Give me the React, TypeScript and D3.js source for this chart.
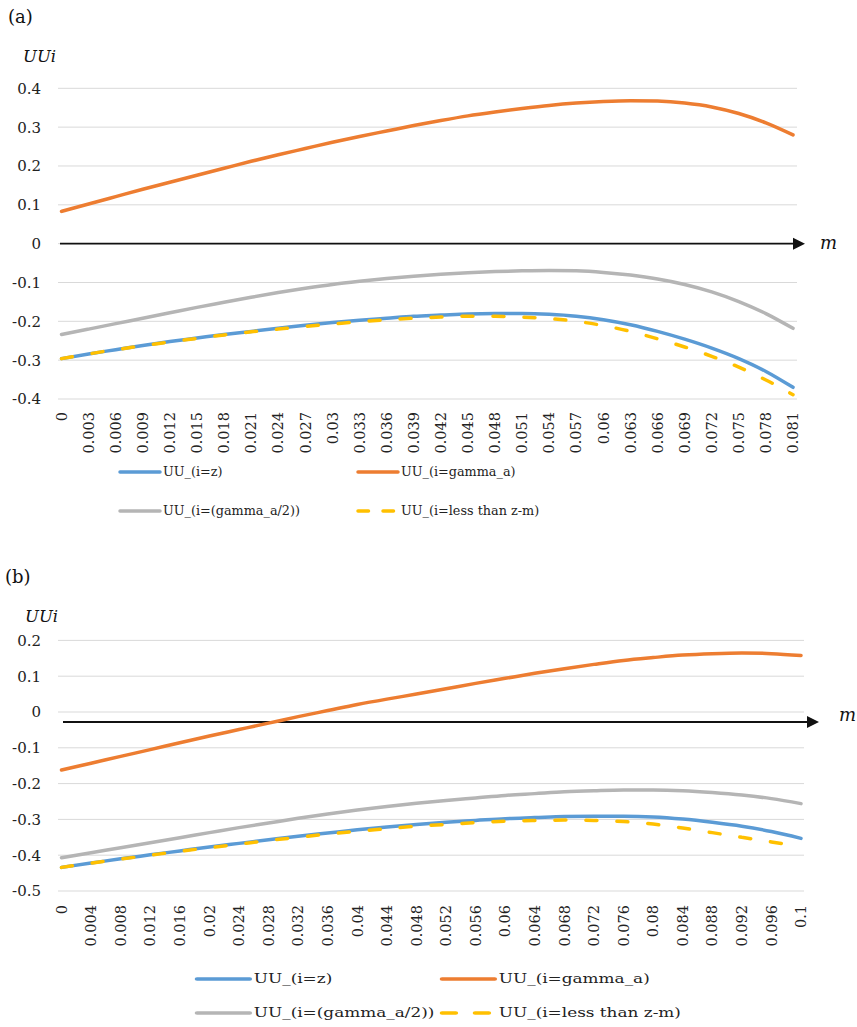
import React from 'react';
import * as d3 from 'd3';

// ---- panel (a) data ----
const catsA = ['0', '0.003', '0.006', '0.009', '0.012', '0.015', '0.018', '0.021', '0.024', '0.027', '0.03', '0.033', '0.036', '0.039', '0.042', '0.045', '0.048', '0.051', '0.054', '0.057', '0.06', '0.063', '0.066', '0.069', '0.072', '0.075', '0.078', '0.081'];
const zA = [-0.296, -0.284, -0.273, -0.262, -0.252, -0.243, -0.234, -0.226, -0.218, -0.210, -0.203, -0.197, -0.192, -0.187, -0.184, -0.181, -0.180, -0.180, -0.182, -0.187, -0.196, -0.209, -0.226, -0.246, -0.269, -0.296, -0.329, -0.370];
const gammaA = [0.083, 0.102, 0.121, 0.140, 0.158, 0.176, 0.194, 0.212, 0.229, 0.245, 0.261, 0.276, 0.290, 0.304, 0.317, 0.329, 0.339, 0.348, 0.356, 0.362, 0.366, 0.368, 0.367, 0.362, 0.352, 0.335, 0.311, 0.280];
const halfA = [-0.234, -0.220, -0.206, -0.192, -0.178, -0.164, -0.151, -0.138, -0.126, -0.115, -0.105, -0.097, -0.090, -0.084, -0.079, -0.075, -0.072, -0.070, -0.069, -0.070, -0.074, -0.081, -0.091, -0.105, -0.124, -0.149, -0.180, -0.218];
const lessA = [-0.296, -0.284, -0.273, -0.263, -0.253, -0.244, -0.235, -0.227, -0.220, -0.213, -0.207, -0.201, -0.196, -0.192, -0.189, -0.187, -0.187, -0.189, -0.193, -0.200, -0.211, -0.226, -0.245, -0.266, -0.290, -0.318, -0.351, -0.389];
const yTicksA = [0.4, 0.3, 0.2, 0.1, 0, -0.1, -0.2, -0.3, -0.4];

// ---- panel (b) data ----
const catsB = ['0', '0.004', '0.008', '0.012', '0.016', '0.02', '0.024', '0.028', '0.032', '0.036', '0.04', '0.044', '0.048', '0.052', '0.056', '0.06', '0.064', '0.068', '0.072', '0.076', '0.08', '0.084', '0.088', '0.092', '0.096', '0.1'];
const zB = [-0.434, -0.422, -0.410, -0.399, -0.388, -0.377, -0.367, -0.357, -0.347, -0.338, -0.329, -0.321, -0.314, -0.308, -0.303, -0.298, -0.295, -0.292, -0.291, -0.291, -0.293, -0.299, -0.308, -0.319, -0.334, -0.353];
const gammaB = [-0.162, -0.143, -0.124, -0.105, -0.086, -0.067, -0.049, -0.031, -0.013, 0.004, 0.021, 0.036, 0.050, 0.065, 0.080, 0.094, 0.108, 0.121, 0.133, 0.144, 0.152, 0.159, 0.163, 0.165, 0.163, 0.158];
const halfB = [-0.407, -0.393, -0.379, -0.365, -0.351, -0.337, -0.323, -0.310, -0.297, -0.285, -0.274, -0.264, -0.255, -0.247, -0.240, -0.233, -0.228, -0.223, -0.220, -0.218, -0.218, -0.220, -0.225, -0.232, -0.242, -0.256];
const lessB = [-0.434, -0.422, -0.411, -0.400, -0.389, -0.379, -0.369, -0.359, -0.350, -0.341, -0.333, -0.326, -0.319, -0.314, -0.309, -0.305, -0.303, -0.302, -0.303, -0.306, -0.313, -0.324, -0.337, -0.350, -0.363, -0.376];
const yTicksB = [0.2, 0.1, 0, -0.1, -0.2, -0.3, -0.4, -0.5];

const seriesNames = ['UU_(i=z)', 'UU_(i=gamma_a)', 'UU_(i=(gamma_a/2))', 'UU_(i=less than z-m)'];
const colors = ['#5B9BD5', '#ED7D31', '#B5B5B5', '#FFC000'];
const dashes = [null, null, null, '11 20'];

const FONT = "'DejaVu Serif'";

type PanelProps = {
    tag: string;
    tagPos: [number, number];
    uuiPos: [number, number];
    cats: string[];
    series: number[][];
    yTicks: number[];
    yDomain: [number, number];
    yRange: [number, number];
    xRange: [number, number];
    gridX: [number, number];
    arrow: { value: number; x1: number; tip: number; mx: number; my: number };
    labelTop: number;
    legend: { rows: number[]; cols: number[]; sx: number };
};

const Panel = (p: PanelProps) => {
    const x = d3.scalePoint<string>().domain(p.cats).range(p.xRange);
    const y = d3.scaleLinear().domain(p.yDomain).range(p.yRange);
    const line = d3.line<number>()
        .x((_, i) => x(p.cats[i]) as number)
        .y(d => y(d))
        .curve(d3.curveMonotoneX);
    const ay = y(p.arrow.value);
    const txt = { fontFamily: FONT };

    return (
        <g style={txt}>
            <text x={p.tagPos[0]} y={p.tagPos[1]} fontSize={18} fill="#111" style={txt}>{p.tag}</text>
            <text x={p.uuiPos[0]} y={p.uuiPos[1]} fontSize={16.5} fontStyle="italic" fill="#111" style={txt}>UUi</text>

            {/* gridlines + y ticks */}
            {p.yTicks.map(t => (
                <g key={t}>
                    <line x1={p.gridX[0]} x2={p.gridX[1]} y1={y(t)} y2={y(t)} stroke="#D9D9D9" strokeWidth={1} />
                    <text x={41} y={y(t)} dy="0.36em" textAnchor="end" fontSize={15} fill="#222" style={txt}>{String(t)}</text>
                </g>
            ))}

            {/* x tick labels */}
            {p.cats.map(c => (
                <text key={c} transform={`translate(${x(c)},${p.labelTop}) rotate(-90)`}
                    textAnchor="end" dy="0.36em" fontSize={14.5} fill="#222" style={txt}>{c}</text>
            ))}

            {/* axis arrow */}
            <line x1={p.arrow.x1} x2={p.arrow.tip - 10} y1={ay} y2={ay} stroke="#111" strokeWidth={1.8} />
            <path d={`M${p.arrow.tip},${ay}L${p.arrow.tip - 12},${ay - 6}L${p.arrow.tip - 12},${ay + 6}Z`} fill="#111" />
            <text x={p.arrow.mx} y={p.arrow.my} fontSize={18} fontStyle="italic" fill="#111" style={txt}>m</text>

            {/* series */}
            {p.series.map((s, i) => (
                <path key={i} d={line(s) || ''} fill="none" stroke={colors[i]} strokeWidth={3.5}
                    strokeLinecap="round" strokeDasharray={dashes[i] || undefined} />
            ))}

            {/* legend */}
            {seriesNames.map((name, i) => {
                const lx = p.legend.cols[i % 2];
                const ly = p.legend.rows[Math.floor(i / 2)];
                return (
                    <g key={name} transform={`translate(${lx},${ly}) scale(${p.legend.sx},1)`}>
                        <line x1={0} x2={40} y1={0} y2={0} stroke={colors[i]} strokeWidth={3.5}
                            strokeLinecap="round" strokeDasharray={dashes[i] ? '10.5 14.5' : undefined} />
                        <text x={43} y={0} dy="0.35em" fontSize={12.8} fill="#222" style={txt}>{name}</text>
                    </g>
                );
            })}
        </g>
    );
};

export default function App() {
    return (
        <svg width={857} height={1027} style={{ position: 'absolute', left: 0, top: 0, background: '#fff' }}>
            <Panel
                tag="(a)" tagPos={[8, 23]} uuiPos={[23, 62]}
                cats={catsA} series={[zA, gammaA, halfA, lessA]}
                yTicks={yTicksA} yDomain={[-0.4, 0.4]} yRange={[399, 88.3]}
                xRange={[61.5, 793]} gridX={[58, 797]}
                arrow={{ value: 0, x1: 60, tip: 805, mx: 820, my: 249 }}
                labelTop={412}
                legend={{ rows: [472, 511], cols: [120, 358], sx: 1 }}
            />
            <Panel
                tag="(b)" tagPos={[5, 583]} uuiPos={[25, 622]}
                cats={catsB} series={[zB, gammaB, halfB, lessB]}
                yTicks={yTicksB} yDomain={[-0.5, 0.2]} yRange={[891, 640.4]}
                xRange={[61.5, 801]} gridX={[58, 804]}
                arrow={{ value: -0.028, x1: 63, tip: 819, mx: 839, my: 721 }}
                labelTop={905}
                legend={{ rows: [979, 1013], cols: [197, 442], sx: 1.32 }}
            />
        </svg>
    );
}
